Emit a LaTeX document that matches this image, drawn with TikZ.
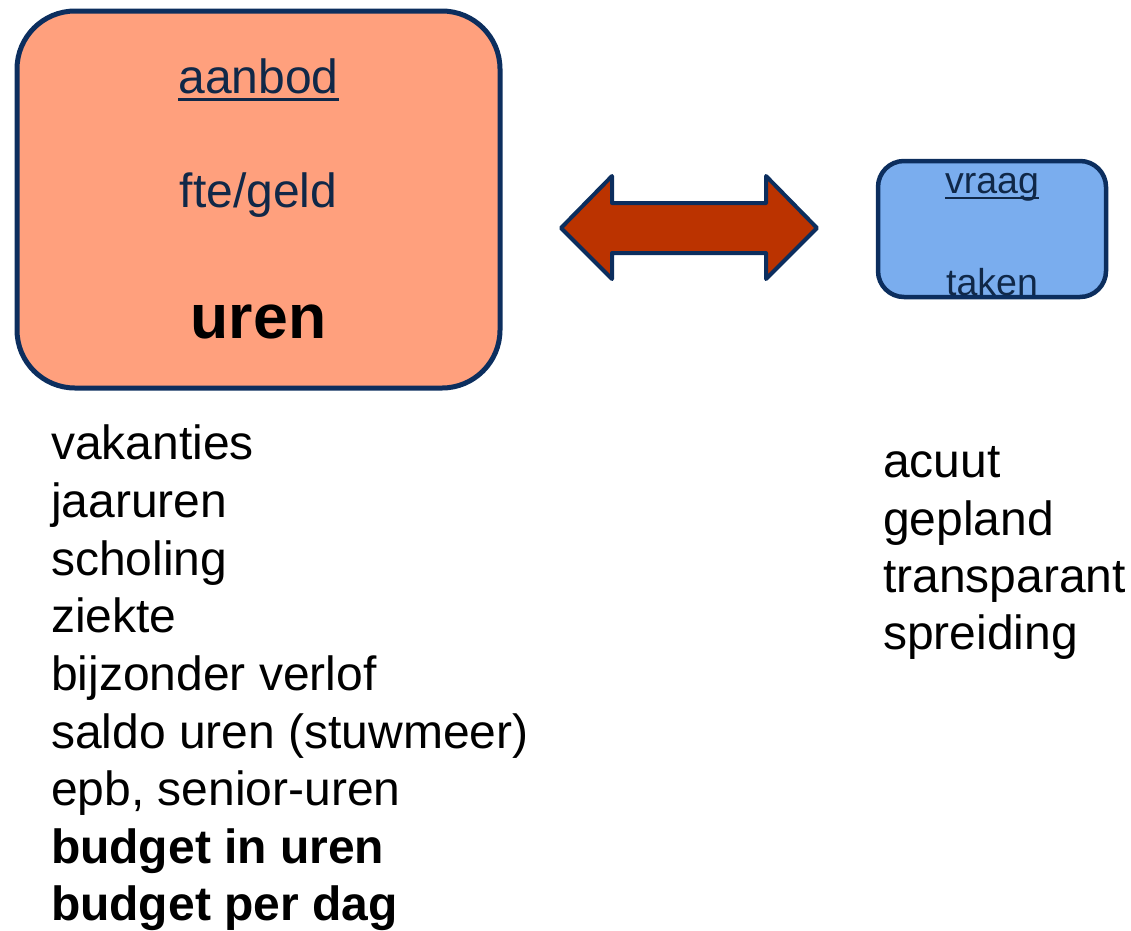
\documentclass[tikz,border=0pt]{standalone}
\usepackage{fontspec}
\setmainfont{Liberation Sans}
\definecolor{navy}{RGB}{12,46,94}
\definecolor{navytext}{RGB}{16,40,72}
\definecolor{salmon}{RGB}{255,160,125}
\definecolor{skyblue}{RGB}{122,173,238}
\definecolor{rust}{RGB}{187,51,0}
\tikzset{
  txt/.style={inner sep=0pt, outer sep=0pt, font=\fontsize{48}{58}\selectfont},
  boxtxt/.style={txt, text=navytext},
  smalltxt/.style={inner sep=0pt, outer sep=0pt, font=\fontsize{37.5}{45}\selectfont, text=navytext},
  boldtxt/.style={txt, font=\fontsize{48}{58}\selectfont\bfseries},
  uline/.style={draw=navytext, line width=3pt},
}
\begin{document}
\begin{tikzpicture}[x=1pt, y=-1pt]
\useasboundingbox (0,0) rectangle (1131,930);
% left box
\draw[draw=navy, fill=salmon, line width=5pt, rounded corners=58pt] (17,11) rectangle (500,388);
\node[boxtxt, anchor=base] (aanbod) at (258.5,93) {aanbod};
\draw[uline] ([yshift=-6pt]aanbod.base west) -- ([yshift=-6pt]aanbod.base east);
\node[boxtxt, anchor=base] (fte) at (258.5,207) {fte/geld};
\node[inner sep=0pt, font=\fontsize{62.5}{70}\selectfont\bfseries, anchor=base] (uren) at (258.5,338) {uren};
% arrow
\draw[draw=navy, fill=rust, line width=4pt, line join=round]
  (561,228) -- (612,176) -- (612,203) -- (766,203) -- (766,176) -- (817,228)
  -- (766,279) -- (766,253) -- (612,253) -- (612,279) -- cycle;
% right box
\draw[draw=navy, fill=skyblue, line width=4.5pt, rounded corners=26pt] (878,161) rectangle (1106,297);
\node[smalltxt, anchor=base] (vraag) at (992,193) {vraag};
\draw[uline, line width=2.5pt] ([yshift=-5pt]vraag.base west) -- ([yshift=-5pt]vraag.base east);
\node[smalltxt, anchor=base] (taken) at (992,295) {taken};
% left list
\node[txt, anchor=base west] (l1) at (51,459) {vakanties};
\node[txt, anchor=base west] (l2) at (51,517) {jaaruren};
\node[txt, anchor=base west] (l3) at (51,575) {scholing};
\node[txt, anchor=base west] (l4) at (51,632) {ziekte};
\node[txt, anchor=base west] (l5) at (51,690) {bijzonder verlof};
\node[txt, anchor=base west] (l6) at (51,748) {saldo uren (stuwmeer)};
\node[txt, anchor=base west] (l7) at (51,805) {epb, senior-uren};
\node[boldtxt, anchor=base west] (l8) at (51,863) {budget in uren};
\node[boldtxt, anchor=base west] (l9) at (51,920) {budget per dag};
% right list
\node[txt, anchor=base west] (r1) at (883,477) {acuut};
\node[txt, anchor=base west] (r2) at (883,535) {gepland};
\node[txt, anchor=base west] (r3) at (883,592) {transparant};
\node[txt, anchor=base west] (r4) at (883,649) {spreiding};
\end{tikzpicture}
\end{document}
